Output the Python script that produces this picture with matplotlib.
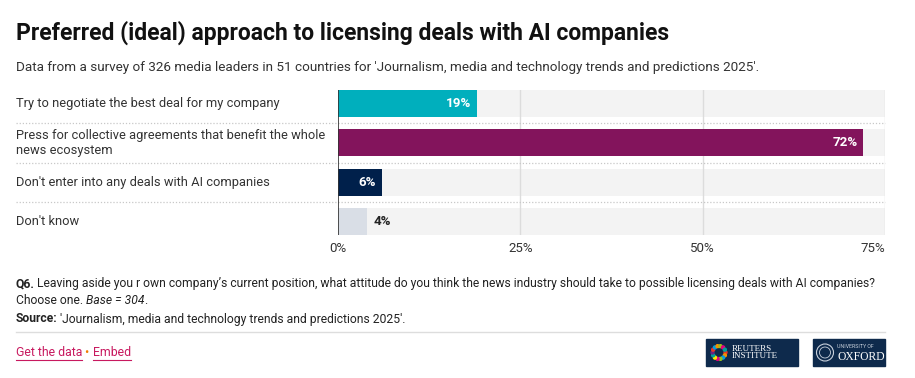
import math
import matplotlib
matplotlib.use("Agg")
import matplotlib.pyplot as plt
from matplotlib.patches import Rectangle, Ellipse
from matplotlib.transforms import blended_transform_factory, offset_copy

plt.rcParams["font.family"] = ["Roboto", "DejaVu Sans"]

categories = [
    "Try to negotiate the best deal for my company",
    "Press for collective agreements that benefit the whole\nnews ecosystem",
    "Don't enter into any deals with AI companies",
    "Don't know",
]
values = [19, 72, 6, 4]
colors = ["#00afbd", "#83145c", "#00204b", "#d9dee6"]
ticks = [0, 25, 50, 75]
tick_labels = ["0%", "25%", "50%", "75%"]

title = "Preferred (ideal) approach to licensing deals with AI companies"
subtitle = ("Data from a survey of 326 media leaders in 51 countries for "
            "'Journalism, media and technology trends and predictions 2025'.")

W, H = 915, 378
fig = plt.figure(figsize=(W / 100, H / 100), dpi=100)
fig.patch.set_facecolor("white")


def fx(px):
    return px / W


def fy(py):
    return 1 - py / H


def circle(cx, cy, r, **kw):
    # round in pixels, placed in figure coords
    fig.add_artist(Ellipse((fx(cx), fy(cy)), 2 * r / W, 2 * r / H,
                           transform=fig.transFigure, **kw))


# axes box: x 338..885 px, y 90..235 px
ax = fig.add_axes([fx(338), fy(235), fx(885) - fx(338), (235 - 90) / H])
ax.set_xlim(0, 75)
ax.set_ylim(len(values) - 1 + 0.34, -0.34)
ax.axis("off")

ypos = list(range(len(values)))

# grey background tracks
ax.barh(ypos, [ticks[-1]] * len(values), height=0.68, color="#f3f3f3", zorder=1)

# grid lines
for t in ticks[1:]:
    ax.axvline(t, color="#dcdcdc", lw=1, zorder=2)

ax.barh(ypos, values, height=0.68, color=colors, zorder=3)
ax.axvline(0, color="#333333", lw=1.2, zorder=4)

# dotted row separators (extend into the label area)
left_frac = (16 - 338) / (885 - 338)
for i in range(len(values) - 1):
    ax.axhline(i + 0.5, xmin=left_frac, xmax=1, color="#c8c8c8", lw=0.9,
               ls=(0, (1, 1.5)), clip_on=False, zorder=2)

# category labels
lab_tr = blended_transform_factory(fig.transFigure, ax.transData)
for i, c in enumerate(categories):
    ax.text(fx(16), i, c, transform=lab_tr, ha="left", va="center",
            fontsize=9.3, color="#333333", linespacing=1.25)

# value labels
for i, v in enumerate(values):
    if v >= 5:
        tr = offset_copy(ax.transData, fig=fig, x=-4, y=0, units="points")
        ax.text(v, i, f"{v}%", transform=tr, ha="right", va="center",
                fontsize=9.6, fontweight="bold", color="white", zorder=5)
    else:
        tr = offset_copy(ax.transData, fig=fig, x=4.5, y=0, units="points")
        ax.text(v, i, f"{v}%", transform=tr, ha="left", va="center",
                fontsize=9.6, fontweight="bold", color="#222222", zorder=5)

# x tick labels
tick_tr = blended_transform_factory(ax.transData, fig.transFigure)
for j, (t, lab) in enumerate(zip(ticks, tick_labels)):
    ha = "right" if j == len(ticks) - 1 else "center"
    ax.text(t, fy(249), lab, transform=tick_tr, ha=ha, va="center",
            fontsize=9.5, color="#333333")

# title + subtitle
fig.text(fx(16), fy(33), title, ha="left", va="center", fontsize=16.5,
         fontweight="bold", color="#111111")
fig.text(fx(16), fy(67), subtitle, ha="left", va="center", fontsize=9.7,
         color="#333333")


def run_line(x_px, y_px, parts, size):
    # draw text pieces one after another on a line
    renderer = fig.canvas.get_renderer()
    x = x_px
    for txt, weight, style, gap in parts:
        t = fig.text(fx(x), fy(y_px), txt, ha="left", va="center",
                     fontsize=size, fontweight=weight, fontstyle=style,
                     color="#222222")
        bb = t.get_window_extent(renderer)
        x += bb.width + gap
    return x


run_line(16, 284, [
    ("Q6.", "bold", "normal", 2.5),
    ("Leaving aside you r own company\u2019s current position, what attitude do you "
     "think the news industry should take to possible licensing deals with AI companies?",
     "normal", "normal", 0),
], 8.75)
run_line(16, 301, [
    ("Choose one.", "normal", "normal", 2.5),
    ("Base = 304", "normal", "italic", 0),
    (".", "normal", "normal", 0),
], 8.75)
run_line(16, 319, [
    ("Source:", "bold", "normal", 2.5),
    ("'Journalism, media and technology trends and predictions 2025'.",
     "normal", "normal", 0),
], 8.75)

# separator line
fig.add_artist(plt.Line2D([fx(16), fx(885)], [fy(332), fy(332)],
                          color="#dddddd", lw=1))

# footer links
renderer = fig.canvas.get_renderer()
pink = "#c8195f"
x = 16
for txt, col, underline in [("Get the data", pink, True), (" \u2022 ", "#f07d00", False),
                            ("Embed", pink, True)]:
    t = fig.text(fx(x), fy(353), txt, ha="left", va="center", fontsize=8.8, color=col)
    w = t.get_window_extent(renderer).width
    if underline:
        fig.add_artist(plt.Line2D([fx(x), fx(x + w)], [fy(360), fy(360)],
                                  color=col, lw=0.8))
    x += w

# logos
navy = "#0e2a4c"
fig.add_artist(Rectangle((fx(706), fy(366)), fx(798) - fx(706), (366 - 339) / H,
                         transform=fig.transFigure, color=navy))
fig.add_artist(Rectangle((fx(813), fy(366)), fx(885) - fx(813), (366 - 339) / H,
                         transform=fig.transFigure, color=navy))
dot_cols = ["#e6332a", "#f39200", "#009fe3", "#95c11f", "#e5007e", "#ffed00",
            "#00a19a", "#662483", "#e6332a", "#009fe3", "#f39200", "#95c11f",
            "#e5007e", "#00a19a"]
for k, dc in enumerate(dot_cols):
    a = 2 * math.pi * k / len(dot_cols)
    circle(719 + 6.5 * math.cos(a), 352.5 + 6.5 * math.sin(a), 1.5, color=dc)
fig.text(fx(732), fy(352.5), "REUTERS\nINSTITUTE", ha="left", va="center",
         fontsize=6.5, family="Liberation Serif", color="white", linespacing=0.95)
circle(825, 352.5, 8.5, fill=False, ec="#c9d1dc", lw=0.8)
circle(825, 352.5, 5.5, fill=False, ec="#c9d1dc", lw=0.6)
fig.text(fx(837), fy(346), "UNIVERSITY OF", ha="left", va="center",
         fontsize=3.8, color="#c9d1dc")
fig.text(fx(837), fy(356.5), "OXFORD", ha="left", va="center",
         fontsize=8.4, family="Liberation Serif", color="white")

fig.savefig("out.png", dpi=100)
